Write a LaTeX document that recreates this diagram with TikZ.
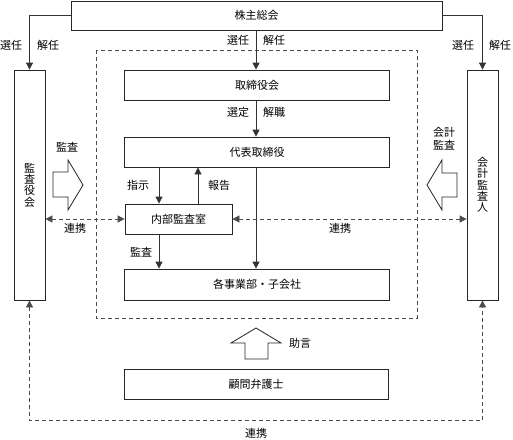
\documentclass[tikz,border=0pt]{standalone}
\usepackage{fontspec}
\setmainfont{Noto Sans CJK JP}
\usetikzlibrary{arrows.meta,calc}
\tikzset{
  box/.style={draw=black!85, line width=0.8pt, fill=white, inner sep=0pt, font=\fontsize{11}{13}\selectfont},
  arr/.style={draw=black!80, line width=0.8pt, -{Triangle[length=7pt,width=7pt]}},
  darr/.style={draw=black!70, line width=0.8pt, dash pattern=on 4pt off 3pt, {Triangle[length=7pt,width=7pt]}-{Triangle[length=7pt,width=7pt]}},
  lbl/.style={inner sep=0pt, font=\fontsize{11}{13}\selectfont},
  vlbl/.style={inner sep=0pt, align=center, font=\fontsize{11}{11.3}\selectfont},
  barrow/.style={draw=black!85, line width=0.8pt, fill=white, line join=miter}
}
\begin{document}
\begin{tikzpicture}[x=1pt,y=-1pt]
\useasboundingbox (0,0) rectangle (513,439);
% outer dashed frame
\draw[draw=black!70, line width=0.8pt, dash pattern=on 4pt off 3pt] (96,50) rectangle (417,318);
% boxes
\node[box, minimum width=371pt, minimum height=29pt] (top) at (256.5,15.5) {株主総会};
\node[box, minimum width=31pt, minimum height=230pt] (kansa) at (29.5,185) {};
\node[vlbl] at (29.5,185) {監\\査\\役\\会};
\node[box, minimum width=31pt, minimum height=230pt] (kaikei) at (482.5,185) {};
\node[vlbl] at (482.5,185) {会\\計\\監\\査\\人};
\node[box, minimum width=265pt, minimum height=30pt] (tori) at (257,85) {取締役会};
\node[box, minimum width=265pt, minimum height=30pt] (daihyo) at (257,152) {代表取締役};
\node[box, minimum width=107pt, minimum height=30pt] (naibu) at (178.5,219) {内部監査室};
\node[box, minimum width=265pt, minimum height=31pt] (jigyo) at (257,284.5) {各事業部・子会社};
\node[box, minimum width=264pt, minimum height=30pt] (komon) at (256,384) {顧問弁護士};
% connectors
\draw[arr] (top.west) -| (kansa.north);
\draw[arr] (top.east) -| (kaikei.north);
\draw[arr] ([xshift=-0.5pt]top.south) -- ([xshift=-0.5pt]top.south |- tori.north);
\draw[arr] ([xshift=-1pt]tori.south) -- ([xshift=-1pt]tori.south |- daihyo.north);
\draw[arr] ([xshift=-1pt]daihyo.south) -- ([xshift=-1pt]daihyo.south |- jigyo.north);
\draw[arr] ([xshift=-19.5pt]naibu.north |- daihyo.south) -- ([xshift=-19.5pt]naibu.north);
\draw[arr] ([xshift=19.5pt]naibu.north) -- ([xshift=19.5pt]naibu.north |- daihyo.south);
\draw[arr] ([xshift=-19.5pt]naibu.south) -- ([xshift=-19.5pt]naibu.south |- jigyo.north);
\draw[darr] (kansa.east |- naibu.west) -- (naibu.west);
\draw[darr] (naibu.east) -- (kaikei.west |- naibu.east);
\draw[darr] (kansa.south) -- ++(0,120) -| (kaikei.south);
% block arrows
\draw[barrow] (53,172) -- (68,172) -- (68,160) -- (83,185) -- (68,210) -- (68,197) -- (53,197) -- cycle;
\draw[barrow] (457,173) -- (442,173) -- (442,160) -- (427,185) -- (442,210) -- (442,197) -- (457,197) -- cycle;
\draw[barrow] (245,359) -- (245,343) -- (231,343) -- (256,328) -- (281,343) -- (268,343) -- (268,359) -- cycle;
% labels
\node[lbl] (l1) at (11,45) {選任};
\node[lbl] (l2) at (48,45) {解任};
\node[lbl] (l3) at (238,40) {選任};
\node[lbl] (l4) at (274,40) {解任};
\node[lbl] (l5) at (463,45) {選任};
\node[lbl] (l6) at (500,45) {解任};
\node[lbl] (l7) at (238,112) {選定};
\node[lbl] (l8) at (274,112) {解職};
\node[lbl] (l9) at (138,185) {指示};
\node[lbl] (l10) at (219,185) {報告};
\node[lbl] (l11) at (67,147) {監査};
\node[vlbl, font=\fontsize{11}{13}\selectfont] (l12) at (444,139) {会計\\監査};
\node[lbl] (l13) at (75,228) {連携};
\node[lbl] (l14) at (340,228) {連携};
\node[lbl] (l15) at (141,252) {監査};
\node[lbl] (l16) at (300,343) {助言};
\node[lbl] (l17) at (256,433) {連携};
\end{tikzpicture}
\end{document}
